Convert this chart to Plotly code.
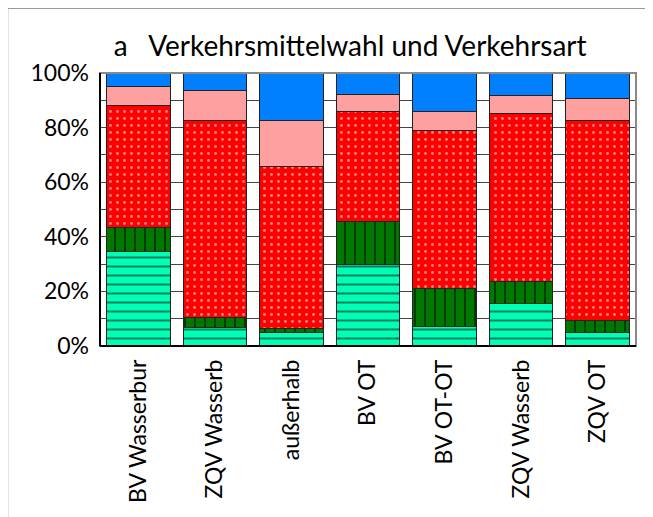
import plotly.graph_objects as go

# --- Data (shares in %, bottom to top) ---
categories = ["BV Wasserbur", "ZQV Wasserb", "außerhalb", "BV OT",
              "BV OT-OT", "ZQV Wasserb", "ZQV OT"]
positions = list(range(len(categories)))

light_green = [34.5, 6.8, 4.9, 30.0, 7.1, 15.5, 4.9]
dark_green = [8.8, 3.6, 1.6, 15.6, 13.9, 8.1, 4.4]
red = [44.8, 72.2, 59.3, 40.3, 58.0, 61.4, 73.3]
pink = [7.0, 10.9, 16.8, 6.4, 6.9, 6.8, 7.9]
blue = [4.9, 6.5, 17.4, 7.7, 14.1, 8.2, 9.5]

y_tickvals = [0, 10, 20, 30, 40, 50, 60, 70, 80, 90, 100]
y_ticktext = ["0%", "", "20%", "", "40%", "", "60%", "", "80%", "", "100%"]

FONT = "Lato"
OUTLINE = dict(color="#222222", width=1)

segments = [
    ("light", light_green, "#00FFB4", dict(shape="-", fgcolor="black", size=9, solidity=0.22)),
    ("dark", dark_green, "#007800", dict(shape="|", fgcolor="black", size=10, solidity=0.2)),
    ("red", red, "#FF0000", dict(shape=".", fgcolor="white", size=7, solidity=0.14)),
    ("pink", pink, "#FFA0A0", None),
    ("blue", blue, "#0080FF", None),
]

fig = go.Figure()
for name, vals, col, pat in segments:
    marker = dict(color=col, line=OUTLINE)
    if pat:
        marker["pattern"] = dict(fillmode="overlay", **pat)
    fig.add_trace(go.Bar(x=positions, y=vals, name=name, marker=marker,
                         hoverinfo="skip"))

# outer frame and plot border
fig.add_shape(type="rect", xref="paper", yref="paper",
              x0=-0.173, x1=1.2, y0=-1.0, y1=1.238,
              line=dict(color="#9a9a9a", width=2), layer="below")
fig.add_shape(type="rect", xref="paper", yref="paper",
              x0=0, x1=1, y0=0, y1=1,
              line=dict(color="#8a8a8a", width=2), layer="above")
fig.add_shape(type="line", xref="paper", yref="paper",
              x0=0, x1=0, y0=0, y1=1, line=dict(color="black", width=2))
fig.add_shape(type="line", xref="paper", yref="paper",
              x0=0, x1=1, y0=0, y1=0, line=dict(color="black", width=2))

fig.update_layout(
    barmode="stack", bargap=0.17, showlegend=False,
    width=653, height=517,
    margin=dict(l=92, r=25, t=65, b=179, autoexpand=False),
    paper_bgcolor="white", plot_bgcolor="white",
    font=dict(family=FONT, color="black"),
    title=dict(text="a   Verkehrsmittelwahl und Verkehrsart",
               x=0.524, xref="container", xanchor="center",
               y=0.926, yref="container", yanchor="middle",
               font=dict(size=28, family=FONT, color="black")),
)
fig.update_xaxes(tickvals=positions, ticktext=categories, tickangle=-90,
                 range=[-0.5, len(categories) - 0.5], showgrid=False,
                 tickfont=dict(size=23), ticks="", showline=False,
                 automargin=False, ticklabelstandoff=8)
fig.update_yaxes(range=[0, 100], tickvals=y_tickvals, ticktext=y_ticktext,
                 showgrid=True, gridcolor="#444444", gridwidth=1,
                 tickfont=dict(size=23), ticks="", showline=False,
                 zeroline=False, automargin=False, ticklabelstandoff=10)

fig.write_html("out.html")
